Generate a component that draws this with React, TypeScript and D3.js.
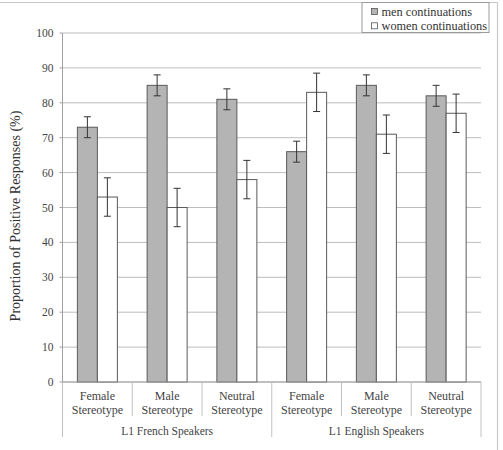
import React from "react";
import * as d3 from "d3";

const groups = ["L1 French Speakers", "L1 English Speakers"];
const stereotypes = ["Female", "Male", "Neutral"];
const categories = ["FR-Female", "FR-Male", "FR-Neutral", "EN-Female", "EN-Male", "EN-Neutral"];
const menValues = [73, 85, 81, 66, 85, 82];
const menErrors = [3, 3, 3, 3, 3, 3];
const womenValues = [53, 50, 58, 83, 71, 77];
const womenErrors = [5.5, 5.5, 5.5, 5.5, 5.5, 5.5];
const seriesNames = ["men continuations", "women continuations"];
const yTicks = [0, 10, 20, 30, 40, 50, 60, 70, 80, 90, 100];

const W = 503;
const H = 450;
const plot = { left: 62.5, right: 481, top: 33, bottom: 382 };
const serif = "'Liberation Serif', 'Times New Roman', serif";

export default function App() {
  const y = d3.scaleLinear().domain([0, 100]).range([plot.bottom, plot.top]);
  const x = d3.scaleBand<string>().domain(categories).range([plot.left, plot.right]).paddingInner(0).paddingOuter(0);
  const bw = x.bandwidth();
  const inner = d3.scaleBand<string>().domain(["men", "women"]).range([0, bw]).paddingInner(0).paddingOuter(0.744);
  const barW = inner.bandwidth();

  const series = [
    { key: "men", values: menValues, errors: menErrors, fill: "#b4b4b4" },
    { key: "women", values: womenValues, errors: womenErrors, fill: "#ffffff" },
  ];

  const groupSpan = bw * 3;

  return (
    <svg width={W} height={H} style={{ position: "absolute", left: 0, top: 0, background: "#fff" }}>
      {/* outer frame edges */}
      <line x1={0} x2={497.5} y1={2.5} y2={2.5} stroke="#c8c8c8" strokeWidth={1.2} />
      <line x1={497.5} x2={497.5} y1={2.5} y2={H} stroke="#c8c8c8" strokeWidth={1.2} />

      {/* gridlines */}
      {yTicks.map((t) => (
        <line key={"g" + t} x1={plot.left} x2={plot.right} y1={y(t)} y2={y(t)} stroke="#bdbdbd" strokeWidth={1} />
      ))}

      {/* y axis */}
      <line x1={plot.left} x2={plot.left} y1={plot.top} y2={plot.bottom} stroke="#a0a0a0" strokeWidth={1} />
      {yTicks.map((t) => (
        <g key={"t" + t}>
          <line x1={plot.left - 3} x2={plot.left} y1={y(t)} y2={y(t)} stroke="#a0a0a0" />
          <text x={53.5} y={y(t)} dy="0.35em" textAnchor="end" fontFamily={serif} fontSize={11.5} fill="#444">
            {t}
          </text>
        </g>
      ))}

      {/* bars */}
      {series.map((s) =>
        categories.map((c, i) => {
          const bx = (x(c) as number) + (inner(s.key) as number);
          const v = s.values[i];
          return (
            <rect
              key={s.key + c}
              x={bx}
              y={y(v)}
              width={barW}
              height={y(0) - y(v)}
              fill={s.fill}
              stroke="#5a5a5a"
              strokeWidth={1}
            />
          );
        })
      )}

      {/* error bars */}
      {series.map((s) =>
        categories.map((c, i) => {
          const cx = (x(c) as number) + (inner(s.key) as number) + barW / 2;
          const v = s.values[i];
          const e = s.errors[i];
          return (
            <g key={"e" + s.key + c} stroke="#333" strokeWidth={1}>
              <line x1={cx} x2={cx} y1={y(v + e)} y2={y(v - e)} />
              <line x1={cx - 3.5} x2={cx + 3.5} y1={y(v + e)} y2={y(v + e)} />
              <line x1={cx - 3.5} x2={cx + 3.5} y1={y(v - e)} y2={y(v - e)} />
            </g>
          );
        })
      )}

      {/* category axis */}
      <line x1={plot.left} x2={plot.right} y1={plot.bottom} y2={plot.bottom} stroke="#a0a0a0" />
      {categories.map((c, i) => {
        const x0 = x(c) as number;
        return (
          <line key={"sep" + c} x1={x0} x2={x0} y1={plot.bottom} y2={i % 3 === 0 ? 437 : 416} stroke="#c0c0c0" />
        );
      })}
      <line x1={plot.right} x2={plot.right} y1={plot.bottom} y2={437} stroke="#c0c0c0" />

      {categories.map((c, i) => {
        const cx = (x(c) as number) + bw / 2;
        return (
          <text key={"cl" + c} x={cx} textAnchor="middle" fontFamily={serif} fontSize={12} fill="#444">
            <tspan x={cx} y={400}>{stereotypes[i % 3]}</tspan>
            <tspan x={cx} y={414}>Stereotype</tspan>
          </text>
        );
      })}
      {groups.map((g, gi) => (
        <text
          key={g}
          x={plot.left + groupSpan * gi + groupSpan / 2}
          y={434.5}
          textAnchor="middle"
          fontFamily={serif}
          fontSize={11.5}
          fill="#444"
        >
          {g}
        </text>
      ))}

      {/* y axis title */}
      <text
        transform={`translate(19.5, ${216}) rotate(-90)`}
        textAnchor="middle"
        fontFamily={serif}
        fontSize={14}
        fill="#333"
      >
        Proportion of Positive Responses (%)
      </text>

      {/* legend */}
      <rect x={362} y={2.5} width={127} height={30} fill="#fff" stroke="#9a9a9a" strokeWidth={1} />
      {seriesNames.map((n, i) => (
        <g key={n}>
          <rect x={371.5} y={8.5 + i * 14.3} width={6} height={6} fill={series[i].fill} stroke="#555" strokeWidth={0.8} />
          <text x={381.5} y={11.7 + i * 14.3} dy="0.35em" fontFamily={serif} fontSize={12.3} fill="#333">
            {n}
          </text>
        </g>
      ))}
    </svg>
  );
}
